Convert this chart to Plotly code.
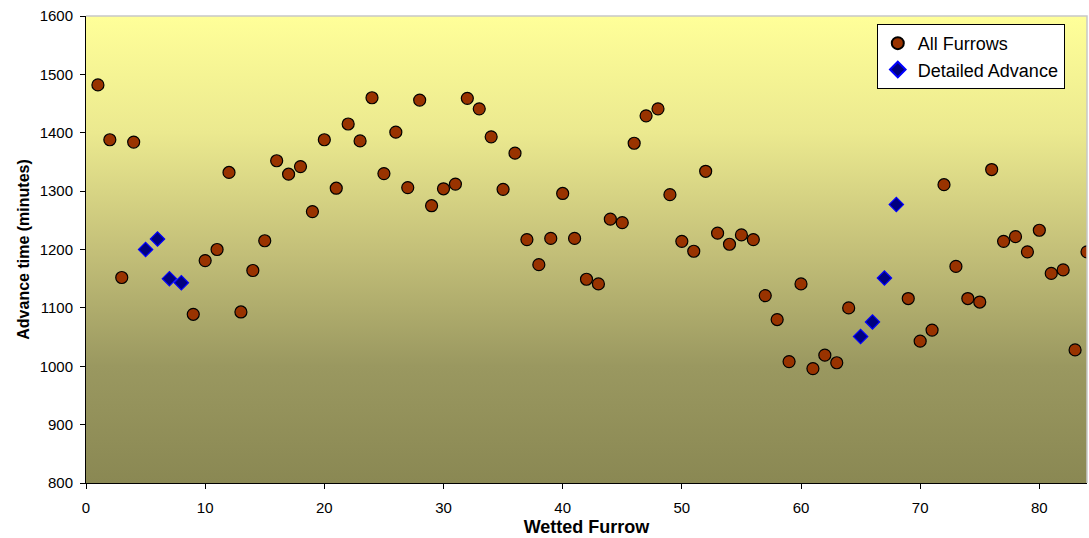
import plotly.graph_objects as go

# Advance time for every wetted furrow
furrow_all = [1, 2, 3, 4, 9, 10, 11, 12, 13, 14, 15, 16, 17, 18, 19, 20,
              21, 22, 23, 24, 25, 26, 27, 28, 29, 30, 31, 32, 33, 34, 35, 36,
              37, 38, 39, 40, 41, 42, 43, 44, 45, 46, 47, 48, 49, 50, 51, 52,
              53, 54, 55, 56, 57, 58, 59, 60, 61, 62, 63, 64, 69, 70, 71, 72,
              73, 74, 75, 76, 77, 78, 79, 80, 81, 82, 83, 84]
advance_all = [1482, 1388, 1152, 1384, 1089, 1181, 1200, 1332, 1093, 1164, 1215, 1352,
               1329, 1342, 1265, 1388, 1305, 1415, 1386, 1460, 1330, 1401, 1306, 1456,
               1275, 1304, 1312, 1459, 1441, 1393, 1303, 1365, 1217, 1174, 1219, 1296,
               1219, 1149, 1141, 1252, 1246, 1382, 1429, 1441, 1294, 1214, 1197, 1334,
               1228, 1209, 1225, 1217, 1121, 1080, 1008, 1141, 996, 1019, 1006, 1100,
               1116, 1043, 1062, 1311, 1171, 1116, 1110, 1337, 1214, 1222, 1196, 1233,
               1159, 1165, 1028, 1196]

# Furrows with detailed advance measurements
furrow_detail = [5, 6, 7, 8, 65, 66, 67, 68]
advance_detail = [1200, 1218, 1150, 1143, 1051, 1076, 1151, 1277]

x_range = [0, 84]
y_range = [800, 1600]

fig = go.Figure()

# Plot-area background: vertical gradient from olive to pale yellow
fig.add_trace(go.Scatter(
    x=[x_range[0], x_range[1], x_range[1], x_range[0], x_range[0]],
    y=[y_range[0], y_range[0], y_range[1], y_range[1], y_range[0]],
    mode="none", fill="toself",
    fillgradient=dict(type="vertical",
                      colorscale=[[0, "#8a8853"], [0.25, "#9a9860"],
                                  [0.5, "#c4c079"], [0.75, "#ebe98f"],
                                  [1, "#ffff99"]]),
    showlegend=False, hoverinfo="skip"))

fig.add_trace(go.Scatter(
    x=furrow_all, y=advance_all, mode="markers", name="All Furrows",
    marker=dict(symbol="circle", size=12, color="#993300",
                line=dict(color="#000000", width=1.2))))

fig.add_trace(go.Scatter(
    x=furrow_detail, y=advance_detail, mode="markers", name="Detailed Advance",
    marker=dict(symbol="diamond", size=11, color="#000080",
                line=dict(color="#0000ff", width=1.2))))

fig.update_layout(
    width=1089, height=538,
    margin=dict(l=86, r=2, t=16, b=55),
    paper_bgcolor="white", plot_bgcolor="white",
    font=dict(family="Liberation Sans, Arial, sans-serif", color="#000000"),
    legend=dict(x=0.79, y=0.983, xanchor="left", yanchor="top",
                bgcolor="white", bordercolor="#000000", borderwidth=1,
                font=dict(size=18), tracegroupgap=0, itemsizing="constant",
                itemwidth=30),
    shapes=[dict(type="path", xref="paper", yref="paper",
                 path="M 0,1 L 1,1 L 1,0", line=dict(color="#c8c8c8", width=1.5))],
)

fig.update_xaxes(
    range=x_range, tickmode="linear", tick0=0, dtick=10,
    showgrid=False, zeroline=False,
    showline=True, linecolor="#000000", linewidth=1,
    ticks="outside", ticklen=5, tickcolor="#000000",
    tickfont=dict(size=15), ticklabelstandoff=6,
    title=dict(text="<b>Wetted Furrow</b>", font=dict(size=18), standoff=5))

fig.update_yaxes(
    range=y_range, tickmode="linear", tick0=800, dtick=100,
    showgrid=True, gridcolor="#1a1a1a", gridwidth=1, zeroline=False,
    showline=True, linecolor="#000000", linewidth=1,
    ticks="outside", ticklen=5, tickcolor="#000000",
    tickfont=dict(size=15), ticklabelstandoff=4,
    title=dict(text="<b>Advance time (minutes)</b>", font=dict(size=16), standoff=6))

fig.write_html("out.html")
